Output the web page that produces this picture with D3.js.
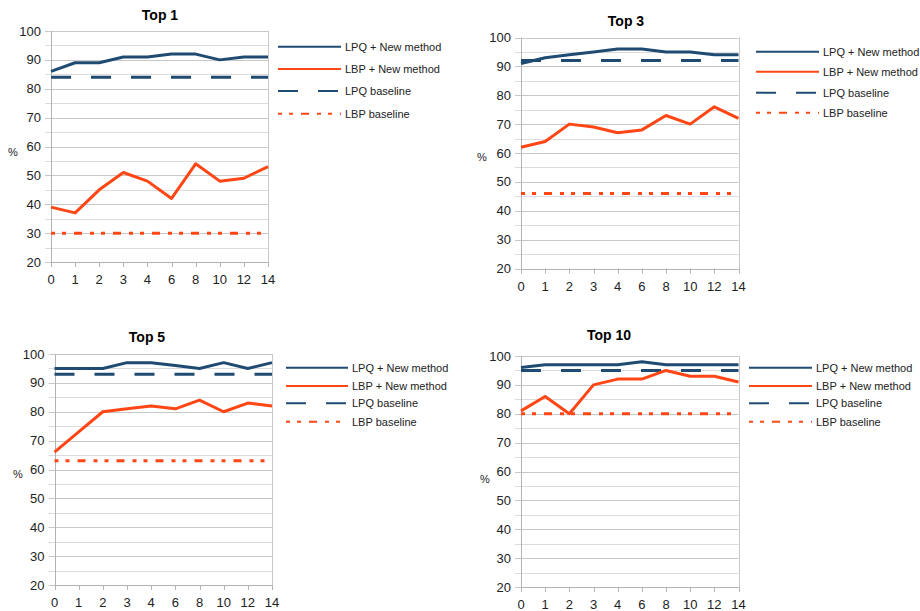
<!DOCTYPE html>
<html>
<head>
<meta charset="utf-8">
<script src="https://cdn.jsdelivr.net/npm/d3@7"></script>
<style>
  html, body { margin: 0; padding: 0; background: #fff; }
  svg { display: block; font-family: "Liberation Sans", Arial, sans-serif; }
</style>
</head>
<body>
<svg id="chart" width="920" height="611"></svg>
<script>
// ---- Data ----
const categories = ["0", "1", "2", "3", "4", "6", "8", "10", "12", "14"];
const yTicks = [20, 30, 40, 50, 60, 70, 80, 90, 100];
const seriesNames = ["LPQ + New method", "LBP + New method", "LPQ baseline", "LBP baseline"];
const panelTitles = ["Top 1", "Top 3", "Top 5", "Top 10"];

const top1LPQ = [86, 89, 89, 91, 91, 92, 92, 90, 91, 91];
const top1LBP = [39, 37, 45, 51, 48, 42, 54, 48, 49, 53];
const top1LPQBase = 84;
const top1LBPBase = 30;

const top3LPQ = [91, 93, 94, 95, 96, 96, 95, 95, 94, 94];
const top3LBP = [62, 64, 70, 69, 67, 68, 73, 70, 76, 72];
const top3LPQBase = 92;
const top3LBPBase = 46;

const top5LPQ = [95, 95, 95, 97, 97, 96, 95, 97, 95, 97];
const top5LBP = [66, 73, 80, 81, 82, 81, 84, 80, 83, 82];
const top5LPQBase = 93;
const top5LBPBase = 63;

const top10LPQ = [96, 97, 97, 97, 97, 98, 97, 97, 97, 97];
const top10LBP = [81, 86, 80, 90, 92, 92, 95, 93, 93, 91];
const top10LPQBase = 95;
const top10LBPBase = 80;

// ---- Styles ----
const BLUE = "#1f4a72";
const ORANGE = "#ff4614";
const styles = [
  { color: BLUE, dash: null },
  { color: ORANGE, dash: null },
  { color: BLUE, dash: "20,20" },
  { color: ORANGE, dash: "4,7,4,8,8,8" }
];

// ---- Layout ----
const panels = [
  { title: panelTitles[0], lpq: top1LPQ, lbp: top1LBP, lpqB: top1LPQBase, lbpB: top1LBPBase,
    l: 51, r: 268, t: 31, b: 262, tx: 160, ty: 20, px: 13, py: 156,
    lx1: 278, lx2: 341, ltx: 345, rows: [46.7, 69, 91, 113.7] },
  { title: panelTitles[1], lpq: top3LPQ, lbp: top3LBP, lpqB: top3LPQBase, lbpB: top3LBPBase,
    l: 521, r: 738.5, t: 37.5, b: 268.5, tx: 626, ty: 26, px: 482, py: 161,
    lx1: 756, lx2: 819, ltx: 823, rows: [51.7, 71.7, 92.7, 112.7] },
  { title: panelTitles[2], lpq: top5LPQ, lbp: top5LBP, lpqB: top5LPQBase, lbpB: top5LBPBase,
    l: 54.5, r: 272, t: 354, b: 585, tx: 147, ty: 342, px: 18, py: 478,
    lx1: 286, lx2: 348, ltx: 352, rows: [367.7, 386, 403.3, 421.7] },
  { title: panelTitles[3], lpq: top10LPQ, lbp: top10LBP, lpqB: top10LPQBase, lbpB: top10LBPBase,
    l: 521, r: 738.5, t: 356, b: 587, tx: 609, ty: 340, px: 485, py: 483,
    lx1: 749, lx2: 812, ltx: 816, rows: [367.7, 386, 403.3, 421.7] }
];

const svg = d3.select("#chart");

panels.forEach(p => {
  const g = svg.append("g");
  const x = d3.scalePoint().domain(categories).range([p.l, p.r]);
  const y = d3.scaleLinear().domain([20, 100]).range([p.b, p.t]);

  // minor grid (every 5)
  const minor = d3.range(25, 100, 10);
  g.selectAll(".minor").data(minor).enter().append("line")
    .attr("x1", p.l - 6).attr("x2", p.r)
    .attr("y1", d => Math.round(y(d)) + 0.5).attr("y2", d => Math.round(y(d)) + 0.5)
    .attr("stroke", "#dcdcdc").attr("stroke-width", 1);
  // major grid
  g.selectAll(".major").data(yTicks).enter().append("line")
    .attr("x1", p.l - 6).attr("x2", p.r)
    .attr("y1", d => Math.round(y(d)) + 0.5).attr("y2", d => Math.round(y(d)) + 0.5)
    .attr("stroke", "#c8c8c8").attr("stroke-width", 1);

  // axes lines
  g.append("line").attr("x1", Math.round(p.l) + 0.5).attr("x2", Math.round(p.l) + 0.5)
    .attr("y1", p.t).attr("y2", p.b + 5).attr("stroke", "#b3b3b3");
  g.append("line").attr("x1", Math.round(p.r) + 0.5).attr("x2", Math.round(p.r) + 0.5)
    .attr("y1", p.t).attr("y2", p.b + 5).attr("stroke", "#c8c8c8");
  g.append("line").attr("x1", p.l).attr("x2", p.r)
    .attr("y1", Math.round(p.b) + 0.5).attr("y2", Math.round(p.b) + 0.5).attr("stroke", "#b3b3b3");
  // x ticks
  g.selectAll(".xt").data(categories).enter().append("line")
    .attr("x1", d => Math.round(x(d)) + 0.5).attr("x2", d => Math.round(x(d)) + 0.5)
    .attr("y1", p.b).attr("y2", p.b + 5).attr("stroke", "#b3b3b3");

  // y tick labels
  g.selectAll(".yl").data(yTicks).enter().append("text")
    .attr("x", p.l - 10).attr("y", d => y(d) + 4.5)
    .attr("text-anchor", "end").attr("font-size", 13).attr("fill", "#222")
    .text(d => d);
  // x tick labels
  g.selectAll(".xl").data(categories).enter().append("text")
    .attr("x", d => x(d)).attr("y", p.b + 22)
    .attr("text-anchor", "middle").attr("font-size", 13).attr("fill", "#222")
    .text(d => d);

  // y-axis title
  g.append("text").attr("x", p.px).attr("y", p.py).attr("text-anchor", "middle")
    .attr("font-size", 11).attr("fill", "#222").text("%");

  // chart title
  g.append("text").attr("x", p.tx).attr("y", p.ty).attr("text-anchor", "middle")
    .attr("font-size", 14).attr("font-weight", "bold").attr("fill", "#000").text(p.title);

  // series
  const line = d3.line().x((d, i) => x(categories[i])).y(d => y(d));
  const seriesData = [
    p.lpq, p.lbp,
    categories.map(() => p.lpqB),
    categories.map(() => p.lbpB)
  ];
  // draw baselines first, then method lines
  [3, 2, 1, 0].forEach(k => {
    const path = g.append("path").datum(seriesData[k])
      .attr("d", line).attr("fill", "none")
      .attr("stroke", styles[k].color).attr("stroke-width", 3)
      .attr("stroke-linejoin", "round");
    if (styles[k].dash) path.attr("stroke-dasharray", styles[k].dash);
  });

  // legend
  seriesNames.forEach((name, k) => {
    const ly = p.rows[k];
    const ln = g.append("line").attr("x1", p.lx1).attr("x2", p.lx2)
      .attr("y1", ly).attr("y2", ly)
      .attr("stroke", styles[k].color).attr("stroke-width", 2);
    if (styles[k].dash) ln.attr("stroke-dasharray", styles[k].dash);
    g.append("text").attr("x", p.ltx).attr("y", ly + 4)
      .attr("font-size", 11).attr("fill", "#222").text(name);
  });
});
</script>
</body>
</html>
